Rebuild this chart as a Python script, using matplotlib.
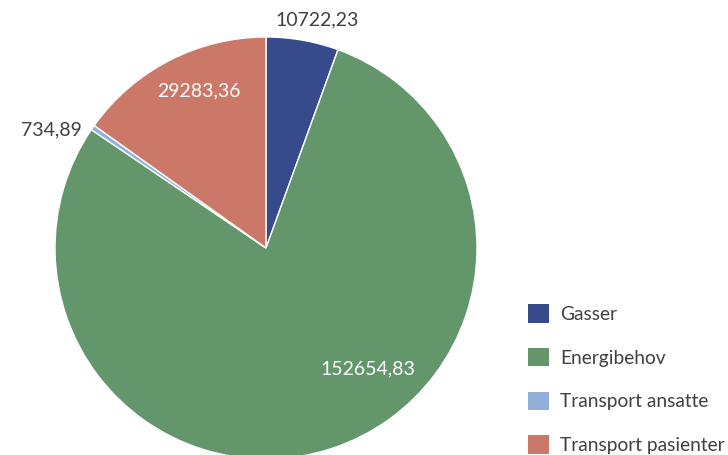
import matplotlib

matplotlib.use("Agg")
import matplotlib.pyplot as plt
import numpy as np

categories = ["Gasser", "Energibehov", "Transport ansatte", "Transport pasienter"]
values = [10722.23, 152654.83, 734.89, 29283.36]
colors = ["#374A8C", "#63976B", "#92AEDA", "#CC7868"]
label_text = ["10722,23", "152654,83", "734,89", "29283,36"]

plt.rcParams["font.family"] = ["Lato", "DejaVu Sans"]
TXT = "#404040"

W, H = 728, 455
cx, cy, R = 266, 248, 211

fig = plt.figure(figsize=(W / 100, H / 100), dpi=100)
ax = fig.add_axes([(cx - R) / W, (H - cy - R) / H, 2 * R / W, 2 * R / H])
wedges, _ = ax.pie(values, colors=colors, startangle=90, counterclock=False,
                   radius=1, wedgeprops=dict(edgecolor="white", linewidth=1))
ax.set_xlim(-1, 1); ax.set_ylim(-1, 1)
ax.set_aspect("equal")

# label placement: (radius factor, angle tweak in degrees, inside?)
place = [(1.07, -3, False), (0.75, 22, True), (1.036, 2, False), (0.81, -4, True)]
for w, txt, (rf, dtheta, inside) in zip(wedges, label_text, place):
    mid = np.deg2rad((w.theta1 + w.theta2) / 2 + dtheta)
    x, y = rf * np.cos(mid), rf * np.sin(mid)
    if inside:
        ax.text(x, y, txt, ha="center", va="center", color="white", fontsize=14)
    elif x < 0:
        ax.text(x, y, txt, ha="right", va="center", color=TXT, fontsize=14)
    else:
        ax.text(x, y, txt, ha="center", va="bottom", color=TXT, fontsize=14)

handles = [plt.Rectangle((0, 0), 1, 1, facecolor=c) for c in colors]
fig.legend(handles, categories, loc="upper left", bbox_to_anchor=(511 / W, 1 - 287 / H),
           frameon=False, fontsize=13.8, labelcolor=TXT, handlelength=1.1, handleheight=1.1,
           labelspacing=1.3, handletextpad=0.55)

fig.savefig("out.png", dpi=100)
